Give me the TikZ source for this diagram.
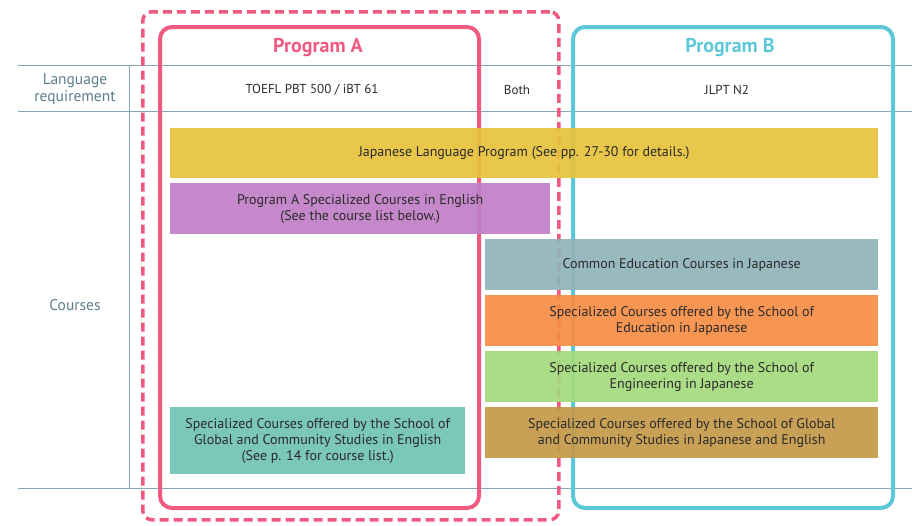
\documentclass[tikz,border=0pt]{standalone}
\usepackage{fontspec}
\setmainfont{PT Sans}
\definecolor{pinkc}{HTML}{F05A80}
\definecolor{cyanc}{HTML}{5CC8D8}
\definecolor{gridc}{HTML}{86A6B6}
\definecolor{labc}{HTML}{5E7D8C}
\definecolor{txt}{HTML}{2A2A2A}
\definecolor{cyellow}{HTML}{E6C23C}
\definecolor{cpurple}{HTML}{C07EC6}
\definecolor{cgray}{HTML}{8FB3B8}
\definecolor{corange}{HTML}{F68C44}
\definecolor{cgreen}{HTML}{A3DA7B}
\definecolor{cbrown}{HTML}{C49948}
\definecolor{cteal}{HTML}{70C2B4}
\begin{document}
\begin{tikzpicture}[x=1pt,y=-1pt,
  gridline/.style={draw=gridc,line width=0.9pt},
  frameA/.style={draw=pinkc,line width=4pt,rounded corners=12pt,anchor=north west,inner sep=0pt},
  frameB/.style={draw=cyanc,line width=4pt,rounded corners=12pt,anchor=north west,inner sep=0pt},
  frameAB/.style={draw=pinkc,line width=3.5pt,dash pattern=on 9pt off 5pt,rounded corners=9pt,anchor=north west,inner sep=0pt},
  course/.style={anchor=north west,inner sep=0pt,fill opacity=0.92,text opacity=1,text=txt,align=center,font=\fontsize{14}{16}\selectfont},
  head/.style={font=\fontsize{13}{15}\selectfont,text=txt},
  side/.style={font=\fontsize{15.5}{16.5}\selectfont,text=labc,align=center},
  title/.style={font=\bfseries\fontsize{20}{22}\selectfont}]
\useasboundingbox (0,0) rectangle (912,525);
% grid
\coordinate (h1l) at (18,65); \coordinate (h1r) at (912,65);
\coordinate (h2l) at (18,111); \coordinate (h2r) at (912,111);
\coordinate (h3l) at (18,488); \coordinate (h3r) at (912,488);
\coordinate (vt) at (129,65); \coordinate (vb) at (129,488);
\draw[gridline] (h1l) -- (h1r);
\draw[gridline] (h2l) -- (h2r);
\draw[gridline] (h3l) -- (h3r);
\draw[gridline] (vt) -- (vb);
% frames
\node[frameAB,minimum width=416pt,minimum height=508pt] (ab) at (141,10) {};
\node[frameA,minimum width=319pt,minimum height=481pt] (pa) at (158,25) {};
\node[frameB,minimum width=320pt,minimum height=481pt] (pb) at (571,25) {};
\node[title,text=pinkc] (ta) at (318,48) {Program A};
\node[title,text=cyanc] (tb) at (730,48) {Program B};
% headers
\node[side] (lr) at (75,89) {Language\\requirement};
\node[side] (co) at (75,305) {Courses};
\node[head] (toefl) at (312,90) {TOEFL PBT 500 / iBT 61};
\node[head] (both) at (517,90) {Both};
\node[head] (jlpt) at (727,90) {JLPT N2};
% courses
\node[course,fill=cyellow,minimum width=708pt,minimum height=50pt] (jlp) at (170,128) {Japanese Language Program (See pp. 27-30 for details.)};
\node[course,fill=cpurple,minimum width=380pt,minimum height=51pt] (spa) at (170,183) {Program A Specialized Courses in English\\(See the course list below.)};
\node[course,fill=cgray,minimum width=393pt,minimum height=51pt] (ce) at (485,239) {Common Education Courses in Japanese};
\node[course,fill=corange,minimum width=393pt,minimum height=51pt] (ed) at (485,295) {Specialized Courses offered by the School of\\Education in Japanese};
\node[course,fill=cgreen,minimum width=393pt,minimum height=51pt] (en) at (485,351) {Specialized Courses offered by the School of\\Engineering in Japanese};
\node[course,fill=cbrown,minimum width=393pt,minimum height=51pt] (gj) at (485,407) {Specialized Courses offered by the School of Global\\and Community Studies in Japanese and English};
\node[course,fill=cteal,minimum width=295pt,minimum height=67pt] (ge) at (170,407) {Specialized Courses offered by the School of\\Global and Community Studies in English\\(See p. 14 for course list.)};
\end{tikzpicture}
\end{document}
